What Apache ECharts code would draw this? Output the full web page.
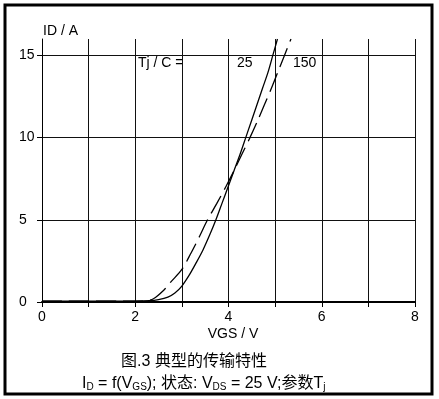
<!DOCTYPE html>
<html>
<head>
<meta charset="utf-8">
<script src="https://cdn.jsdelivr.net/npm/echarts@6/dist/echarts.min.js"></script>
<style>
  html, body { margin: 0; padding: 0; background: #fff; }
  #chart { width: 439px; height: 399px; }
</style>
</head>
<body>
<div id="chart"></div>
<script>
// Tj = 25 C (solid)
var volt25 = [0, 2.0, 2.3, 2.5, 2.7, 2.85, 3.0, 3.15, 3.3, 3.45, 3.6, 3.73, 3.86, 3.99, 4.12, 4.25, 4.37, 4.49, 4.61, 4.73, 4.85, 4.95, 5.05]
var curr25 = [0.05, 0.05, 0.08, 0.15, 0.3, 0.55, 0.97, 1.6, 2.35, 3.15, 4.1, 5, 6, 7, 8, 9, 10, 11, 12, 13, 14, 15, 16]
// Tj = 150 C (dashed)
var volt150 = [0, 2.0, 2.18, 2.39, 2.63, 2.76, 3.0, 3.2, 3.38, 3.55, 3.75, 3.94, 4.12, 4.29, 4.46, 4.62, 4.77, 4.92, 5.06, 5.2, 5.34]
var curr150 = [0.05, 0.05, 0.06, 0.2, 0.77, 1.21, 1.98, 3.0, 4.0, 5, 6, 7, 8, 9, 10, 11, 12, 13, 14, 15, 16]

var xLabels = [0, 2, 4, 6, 8]
var yLabels = [0, 5, 10, 15]

var latin = '"Liberation Sans", Arial, sans-serif'
var cjk = '"Liberation Sans", "Noto Sans CJK SC", sans-serif'

function pairs(xs, ys) {
  return xs.map(function (x, i) { return [x, ys[i]] })
}

var chart = echarts.init(document.getElementById('chart'))
chart.setOption({
  animation: false,
  backgroundColor: '#fff',
  grid: { left: 42, right: 24, top: 39, bottom: 97 },
  xAxis: {
    type: 'value',
    min: 0,
    max: 8,
    interval: 1,
    axisLine: { lineStyle: { color: '#000', width: 2 } },
    axisTick: { show: true, length: 5, lineStyle: { color: '#000' } },
    axisLabel: { customValues: xLabels, color: '#000', fontSize: 14, fontFamily: latin, margin: 8 },
    splitLine: { show: true, lineStyle: { color: '#111', width: 1 } }
  },
  yAxis: {
    type: 'value',
    min: 0,
    max: 16,
    interval: 1,
    axisLine: { show: true, lineStyle: { color: '#000', width: 1 } },
    axisTick: { show: true, customValues: yLabels, length: 5, lineStyle: { color: '#000' } },
    axisLabel: { customValues: yLabels, color: '#000', fontSize: 14, fontFamily: latin, align: 'left', margin: 23 },
    splitLine: { show: true, lineStyle: { color: '#111', width: 1 } }
  },
  series: [{
    name: '25',
    type: 'line',
    data: pairs(volt25, curr25),
    showSymbol: false,
    smooth: 0.3,
    lineStyle: { color: '#000', width: 1.3 }
  }, {
    name: '150',
    type: 'line',
    data: pairs(volt150, curr150),
    showSymbol: false,
    smooth: 0.3,
    lineStyle: { color: '#000', width: 1.3, type: [20, 7] }
  }],
  graphic: [
    // 外框
    { type: 'rect', shape: { x: 5, y: 5, width: 427, height: 389 }, style: { fill: 'none', stroke: '#000', lineWidth: 3 } },
    { type: 'text', style: { x: 43, y: 31, text: 'ID / A', font: '14px ' + latin, fill: '#000', verticalAlign: 'middle' } },
    { type: 'text', style: { x: 138, y: 63, text: 'Tj / C =', font: '14px ' + latin, fill: '#000', verticalAlign: 'middle' } },
    { type: 'text', style: { x: 237, y: 63, text: '25', font: '14px ' + latin, fill: '#000', verticalAlign: 'middle' } },
    { type: 'text', style: { x: 293, y: 63, text: '150', font: '14px ' + latin, fill: '#000', verticalAlign: 'middle' } },
    { type: 'text', style: { x: 233, y: 334, text: 'VGS / V', font: '14px ' + latin, fill: '#000', align: 'center', verticalAlign: 'middle' } },
    { type: 'text', style: { x: 194, y: 362, text: '图.3 典型的传输特性', font: '16px ' + cjk, fill: '#000', align: 'center', verticalAlign: 'middle' } },
    {
      type: 'text',
      style: {
        x: 82, y: 384,
        text: 'I{s|D} = f(V{s|GS}); 状态: V{s|DS} = 25 V;参数T{s|j}',
        font: '16px ' + cjk,
        fill: '#000',
        verticalAlign: 'middle',
        rich: {
          s: { fontSize: 10, fontFamily: latin, verticalAlign: 'bottom', fill: '#000' }
        }
      }
    }
  ]
})
</script>
</body>
</html>
